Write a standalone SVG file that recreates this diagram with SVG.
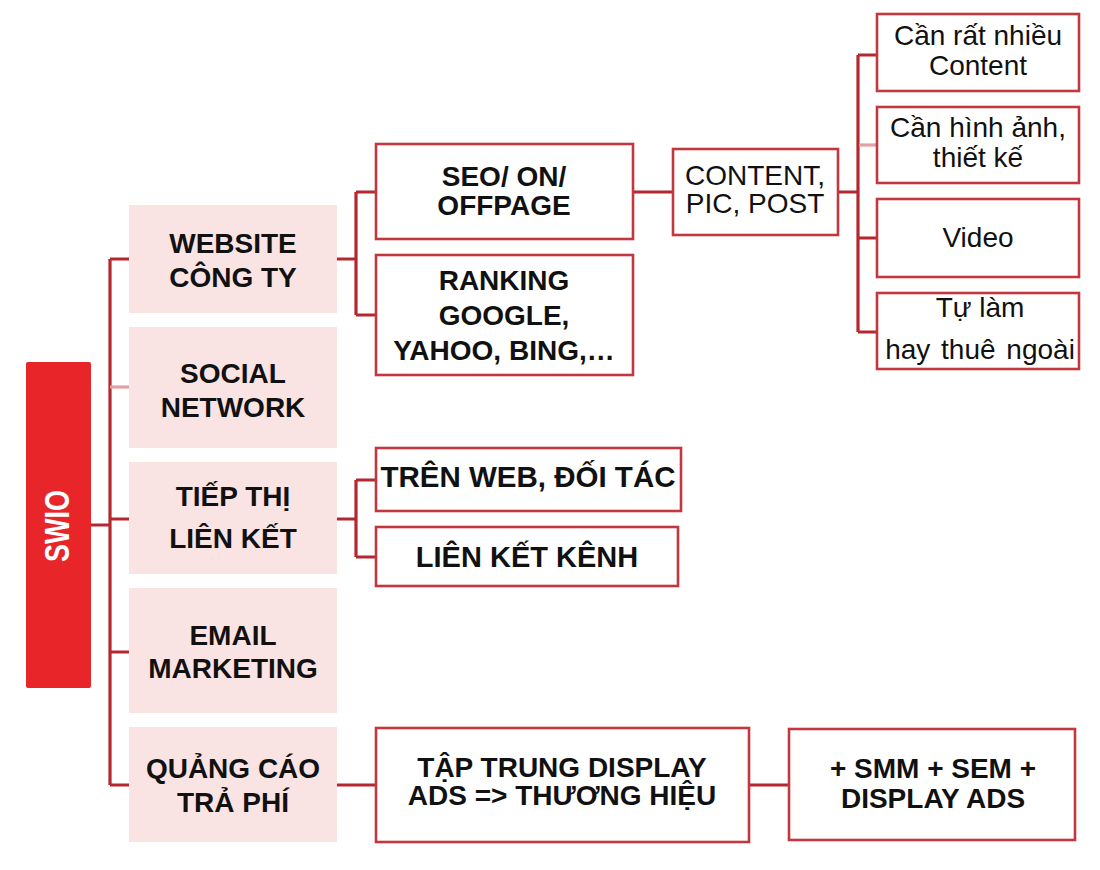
<svg xmlns="http://www.w3.org/2000/svg" width="1100" height="870" viewBox="0 0 1100 870">
<style>
.ln{fill:none;stroke:#b3282e;stroke-width:3.2;stroke-linejoin:miter}
.lt{fill:none;stroke:#e3a0a2;stroke-width:3.2}
.l1{fill:#fae3e3;stroke:none}
.bx{fill:#ffffff;stroke:#c2383e;stroke-width:2.6}
.b{font-family:"Liberation Sans",Arial,sans-serif;font-weight:bold;font-size:28px;fill:#111;text-anchor:middle}
.r{font-family:"Liberation Sans",Arial,sans-serif;font-size:28px;fill:#111;text-anchor:middle}
</style>
<rect width="1100" height="870" fill="#ffffff"/>
<g id="connectors">
<path class="ln" d="M91,525 H110 M110,259 V785 M110,259 H129 M110,519 H129 M110,652 H129 M110,785 H129"/>
<path class="lt" d="M110,387 H129"/>
<path class="ln" d="M337,259 H356 M356,192 V315 M356,192 H376 M356,315 H376"/>
<path class="ln" d="M633,192 H673"/>
<path class="ln" d="M838,192 H858 M858,55 V332 M858,55 H877 M858,238 H877 M858,332 H877"/>
<path class="lt" d="M859,145 H877"/>
<path class="ln" d="M337,519 H356 M356,480 V557 M356,480 H376 M356,557 H376"/>
<path class="ln" d="M337,785 H376 M749,785 H789"/>
</g>
<g id="swio">
<rect x="26" y="362" width="65" height="326" rx="2" fill="#e8262a"/>
<text transform="translate(69,526) rotate(-90) scale(1,1.3)" class="b" style="fill:#fff;font-size:27px">SWIO</text>
</g>
<g id="website">
<rect class="l1" x="129" y="205" width="208" height="108"/>
<text class="b" x="233" y="253">WEBSITE</text>
<text class="b" x="233" y="287">CÔNG TY</text>
</g>
<g id="social">
<rect class="l1" x="129" y="327" width="208" height="121"/>
<text class="b" x="233" y="383">SOCIAL</text>
<text class="b" x="233" y="417">NETWORK</text>
</g>
<g id="tiepthi">
<rect class="l1" x="129" y="462" width="208" height="112"/>
<text class="b" x="233" y="506">TIẾP THỊ</text>
<text class="b" x="233" y="548">LIÊN KẾT</text>
</g>
<g id="email">
<rect class="l1" x="129" y="588" width="208" height="125"/>
<text class="b" x="233" y="645">EMAIL</text>
<text class="b" x="233" y="678">MARKETING</text>
</g>
<g id="quangcao">
<rect class="l1" x="129" y="727" width="208" height="115"/>
<text class="b" x="233" y="778">QUẢNG CÁO</text>
<text class="b" x="233" y="812">TRẢ PHÍ</text>
</g>
<g id="seo">
<rect class="bx" x="376" y="144" width="257" height="95"/>
<text class="b" x="504" y="186">SEO/ ON/</text>
<text class="b" x="504" y="215">OFFPAGE</text>
</g>
<g id="ranking">
<rect class="bx" x="376" y="255" width="257" height="120"/>
<text class="b" x="504" y="290">RANKING</text>
<text class="b" x="504" y="325">GOOGLE,</text>
<text class="b" x="504" y="360">YAHOO, BING,…</text>
</g>
<g id="content">
<rect class="bx" x="673" y="149" width="165" height="86"/>
<text class="r" x="755" y="185">CONTENT,</text>
<text class="r" x="755" y="213">PIC, POST</text>
</g>
<g id="can-content">
<rect class="bx" x="877" y="14" width="202" height="77"/>
<text class="r" x="978" y="45">Cần rất nhiều</text>
<text class="r" x="978" y="75">Content</text>
</g>
<g id="can-hinh">
<rect class="bx" x="877" y="107" width="202" height="76"/>
<text class="r" x="978" y="137">Cần hình  ảnh,</text>
<text class="r" x="978" y="167">thiết  kế</text>
</g>
<g id="video">
<rect class="bx" x="877" y="199" width="202" height="78"/>
<text class="r" x="978" y="247">Video</text>
</g>
<g id="tulam">
<rect class="bx" x="877" y="293" width="202" height="76"/>
<text class="r" x="980" y="317">Tự làm</text>
<text class="r" x="980" y="359" style="word-spacing:3px">hay thuê ngoài</text>
</g>
<g id="trenweb">
<rect class="bx" x="376" y="448" width="305" height="63"/>
<text class="b" x="528" y="487" style="font-size:29.5px">TRÊN WEB, ĐỐI TÁC</text>
</g>
<g id="lienket">
<rect class="bx" x="376" y="527" width="302" height="59"/>
<text class="b" x="527" y="567" style="font-size:29px">LIÊN  KẾT KÊNH</text>
</g>
<g id="taptrung">
<rect class="bx" x="376" y="728" width="373" height="114"/>
<text class="b" x="562" y="777">TẬP TRUNG DISPLAY</text>
<text class="b" x="562" y="805">ADS =&gt; THƯƠNG HIỆU</text>
</g>
<g id="smm">
<rect class="bx" x="789" y="729" width="286" height="111"/>
<text class="b" x="933" y="778">+ SMM + SEM +</text>
<text class="b" x="933" y="808">DISPLAY ADS</text>
</g>
</svg>
